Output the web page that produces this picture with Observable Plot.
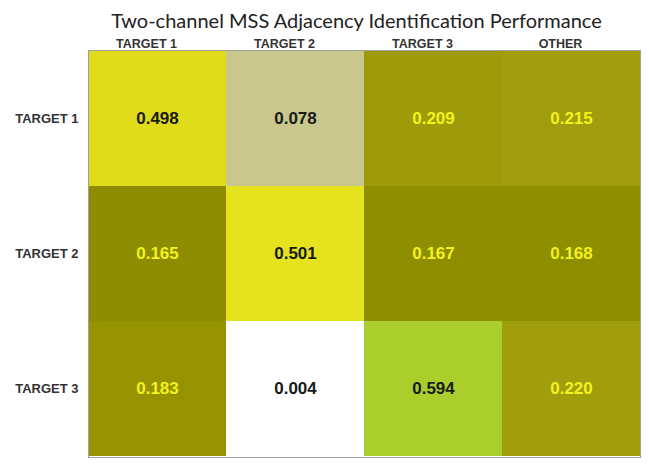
<!DOCTYPE html>
<html>
<head>
<meta charset="utf-8">
<script src="https://cdn.jsdelivr.net/npm/d3@7"></script>
<script src="https://cdn.jsdelivr.net/npm/@observablehq/plot@0.6"></script>
<style>
  html, body { margin: 0; padding: 0; background: #fff; }
  #chart svg { display: block; }
</style>
</head>
<body>
<div id="chart"></div>
<script>
const title = "Two-channel MSS Adjacency Identification Performance";
const rowLabels = ["TARGET 1", "TARGET 2", "TARGET 3"];
const colLabels = ["TARGET 1", "TARGET 2", "TARGET 3", "OTHER"];
const row1 = [0.498, 0.078, 0.209, 0.215];
const row2 = [0.165, 0.501, 0.167, 0.168];
const row3 = [0.183, 0.004, 0.594, 0.220];
const colorStops = [0.004, 0.078, 0.165, 0.183, 0.215, 0.498, 0.501, 0.594];
const colorRange = ["#ffffff", "#c9c78d", "#8e8c00", "#959300", "#a09d0e", "#e0dc1c", "#e6e21e", "#aacf2d"];

const rowsData = [row1, row2, row3];
const cells = [];
rowsData.forEach((vals, i) => vals.forEach((v, j) => cells.push({row: rowLabels[i], col: colLabels[j], value: v})));

const chart = Plot.plot({
  width: 649,
  height: 464,
  marginTop: 50,
  marginLeft: 88,
  marginRight: 9,
  marginBottom: 7,
  style: {background: "#fff"},
  x: {type: "band", domain: colLabels, padding: 0, axis: null},
  y: {type: "band", domain: rowLabels, padding: 0, axis: null},
  color: {type: "linear", domain: colorStops, range: colorRange, clamp: true},
  marks: [
    Plot.cell(cells, {x: "col", y: "row", fill: "value"}),
    Plot.frame({stroke: "#a0a0a0", strokeWidth: 1}),
    Plot.text(cells, {
      x: "col", y: "row", text: d => d.value.toFixed(3),
      fill: d => (d.value > 0.1 && d.value < 0.3) ? "#f2f21c" : "#1a1a1a",
      fontSize: 17, fontWeight: "bold", fontFamily: "Liberation Sans, Arial, sans-serif"
    }),
    Plot.axisX({anchor: "top", tickSize: 0, tickPadding: 3, label: null, dx: -11,
      fontSize: 12.5, fontWeight: "bold", fontFamily: "Liberation Sans, Arial, sans-serif", color: "#333"}),
    Plot.axisY({anchor: "left", tickSize: 0, tickPadding: 10, label: null,
      fontSize: 13, fontWeight: "bold", fontFamily: "Liberation Sans, Arial, sans-serif", color: "#333"}),
    Plot.text([title], {
      frameAnchor: "top", text: d => d, dy: -23, dx: -8, lineAnchor: "bottom",
      fontSize: 20, fontFamily: "Lato, 'Open Sans', sans-serif", fill: "#222"
    })
  ]
});
document.getElementById("chart").appendChild(chart);
</script>
</body>
</html>
